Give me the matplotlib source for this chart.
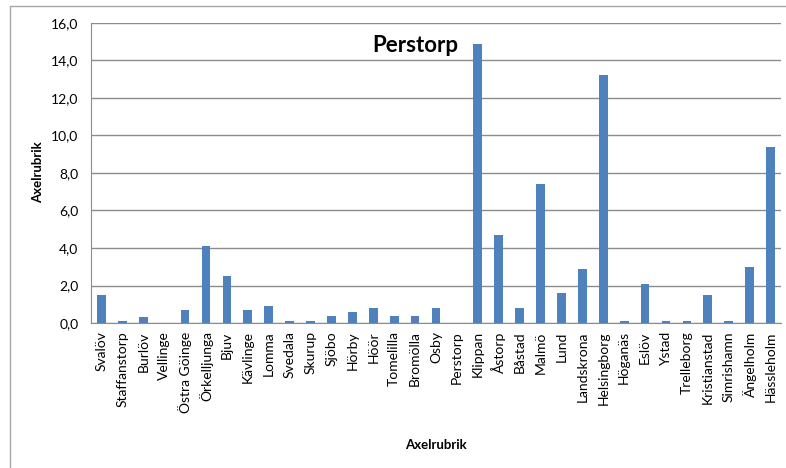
import matplotlib
matplotlib.use("Agg")
import matplotlib.pyplot as plt
from matplotlib.patches import Rectangle

plt.rcParams['font.family'] = ['Lato', 'DejaVu Sans']

categories = ["Svalöv", "Staffanstorp", "Burlöv", "Vellinge", "Östra Göinge", "Örkelljunga",
              "Bjuv", "Kävlinge", "Lomma", "Svedala", "Skurup", "Sjöbo", "Hörby", "Höör",
              "Tomelilla", "Bromölla", "Osby", "Perstorp", "Klippan", "Åstorp", "Båstad",
              "Malmö", "Lund", "Landskrona", "Helsingborg", "Höganäs", "Eslöv", "Ystad",
              "Trelleborg", "Kristianstad", "Simrishamn", "Ängelholm", "Hässleholm"]
values = [1.5, 0.1, 0.3, 0.0, 0.7, 4.1, 2.5, 0.7, 0.9, 0.1, 0.1, 0.4, 0.6, 0.8,
          0.4, 0.4, 0.8, 0.0, 14.9, 4.7, 0.8, 7.4, 1.6, 2.9, 13.2, 0.1, 2.1, 0.1,
          0.1, 1.5, 0.1, 3.0, 9.4]
yticks = [0, 2, 4, 6, 8, 10, 12, 14, 16]
title = "Perstorp"
axis_title = "Axelrubrik"

W, H = 786, 468
fig = plt.figure(figsize=(W / 100, H / 100), dpi=100)

# outer chart border
fig.patches.append(Rectangle((10 / W, -0.05), 1.1, 1.05 - 6 / H, transform=fig.transFigure,
                             fill=False, edgecolor="#a6a6a6", linewidth=1.0))

left, right, top, bottom = 91, 781, 23, 323
ax = fig.add_axes([left / W, 1 - bottom / H, (right - left) / W, (bottom - top) / H])

x = range(len(categories))
ax.bar(x, values, width=0.42, color="#4F81BD", zorder=3)
ax.set_xlim(-0.5, len(categories) - 0.5)
ax.set_ylim(0, 16)
ax.set_yticks(yticks)
ax.set_yticklabels([f"{v:.1f}".replace(".", ",") for v in yticks], fontsize=10)
ax.set_xticks(list(x))
ax.set_xticklabels(categories, rotation=90, fontsize=10)
ax.tick_params(axis="x", length=0, pad=6, colors="black")
ax.tick_params(axis="y", length=0, pad=9, colors="black")
ax.yaxis.grid(True, color="#8c8c8c", linewidth=1.0, zorder=0)
for s in ["top", "right"]:
    ax.spines[s].set_visible(False)
ax.spines["left"].set_color("#8c8c8c")
ax.spines["bottom"].set_color("#8c8c8c")

ax.text(0.47, 0.925, title, transform=ax.transAxes, fontsize=16, fontweight="bold",
        ha="center", va="center")

fig.text(38 / W, 1 - 172 / H, axis_title, rotation=90, fontsize=9.5, fontweight="bold",
         ha="center", va="center")
fig.text(436 / W, 1 - 445 / H, axis_title, fontsize=9.5, fontweight="bold",
         ha="center", va="center")

fig.savefig("out.png", dpi=100)
